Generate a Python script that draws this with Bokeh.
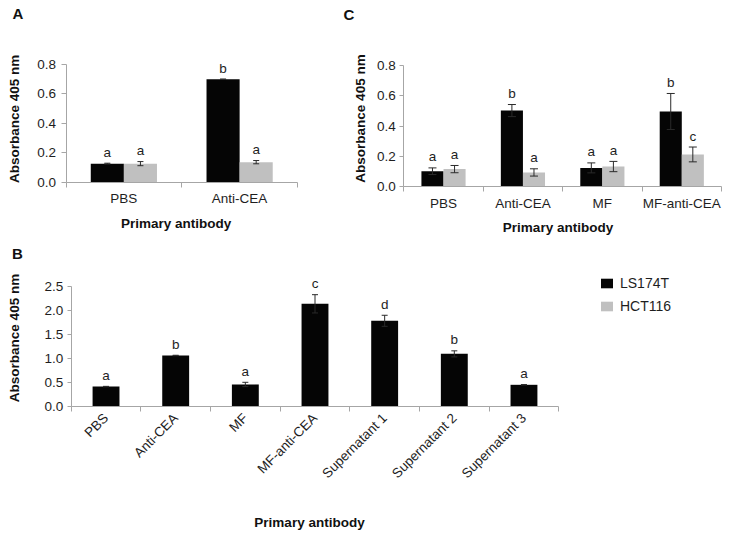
import math
import numpy as np
from bokeh.plotting import figure
from bokeh.models import (Range1d, FixedTicker, ColumnDataSource, Whisker, TeeHead,
                          Label, Legend, LegendItem, PrintfTickFormatter)
from bokeh.layouts import column, row
from bokeh.core.properties import value
from bokeh.embed import file_html
from bokeh.resources import INLINE

FONT = "Liberation Sans"
BLACK = "#050505"
GRAY = "#c0c0c0"
AXIS = "#a6a6a6"
TXT = "#1e1e1e"
FS = "13.5px"

# ---------------- data ----------------
# Panel A
a_categories = ["PBS", "Anti-CEA"]
a_ls174t = [0.125, 0.700]
a_ls174t_err = [0.003, 0.0]
a_hct116 = [0.125, 0.135]
a_hct116_err = [0.014, 0.011]
a_ls174t_letters = ["a", "b"]
a_hct116_letters = ["a", "a"]
a_yticks = [0.0, 0.2, 0.4, 0.6, 0.8]

# Panel C
c_categories = ["PBS", "Anti-CEA", "MF", "MF-anti-CEA"]
c_ls174t = [0.101, 0.502, 0.123, 0.496]
c_ls174t_err = [0.022, 0.040, 0.033, 0.119]
c_hct116 = [0.115, 0.093, 0.132, 0.212]
c_hct116_err = [0.024, 0.024, 0.034, 0.049]
c_ls174t_letters = ["a", "b", "a", "b"]
c_hct116_letters = ["a", "a", "a", "c"]
c_yticks = [0.0, 0.2, 0.4, 0.6, 0.8]

# Panel B
b_categories = ["PBS", "Anti-CEA", "MF", "MF-anti-CEA",
                "Supernatant 1", "Supernatant 2", "Supernatant 3"]
b_ls174t = [0.420, 1.066, 0.464, 2.140, 1.787, 1.100, 0.457]
b_ls174t_err = [0.005, 0.005, 0.045, 0.190, 0.115, 0.063, 0.005]
b_letters = ["a", "b", "a", "c", "d", "b", "a"]
b_yticks = [0.0, 0.5, 1.0, 1.5, 2.0, 2.5]

series_names = ["LS174T", "HCT116"]
x_title = "Primary antibody"
y_title = "Absorbance 405 nm"


def panel_fig(width, height, ncat, ymax, box):
    """box = pixel edges of the axes area inside the canvas: left, right, top, bottom
    (measured from the canvas top-left). The frame fills the whole canvas and the
    axes are pinned at the category/zero origin."""
    left, right, top, bottom = box
    cat_px = (right - left) / ncat
    val_px = (bottom - top) / ymax
    xr = Range1d(-0.5 - left / cat_px, ncat - 0.5 + (width - right) / cat_px)
    yr = Range1d(-(height - bottom) / val_px, ymax + top / val_px)
    p = figure(width=width, height=height, output_backend="svg", toolbar_location=None,
               x_range=xr, y_range=yr,
               min_border_left=0, min_border_right=0, min_border_top=0, min_border_bottom=0)
    p.outline_line_color = None
    p.xgrid.visible = False
    p.ygrid.visible = False
    p.background_fill_color = "white"
    p.border_fill_color = "white"
    return p


def style_axes(p, categories, yticks, x_standoff, y_standoff, y_tick_out=4,
               orientation="horizontal"):
    n = len(categories)
    xa = p.xaxis[0]
    xa.fixed_location = 0
    xa.bounds = (-0.5, n - 0.5)
    xa.ticker = FixedTicker(ticks=list(range(n)),
                            minor_ticks=[i - 0.5 for i in range(n + 1)])
    xa.major_label_overrides = {i: c for i, c in enumerate(categories)}
    xa.major_tick_out = 0
    xa.major_tick_in = 0
    xa.minor_tick_out = 5
    xa.minor_tick_in = 0
    xa.minor_tick_line_color = AXIS
    xa.axis_line_color = AXIS
    xa.major_label_text_font = FONT
    xa.major_label_text_font_size = FS
    xa.major_label_text_color = TXT
    xa.major_label_standoff = x_standoff
    xa.major_label_orientation = orientation

    ya = p.yaxis[0]
    ya.fixed_location = -0.5
    ya.bounds = (yticks[0], yticks[-1])
    ya.ticker = FixedTicker(ticks=yticks)
    ya.formatter = PrintfTickFormatter(format="%.1f")
    ya.major_tick_out = y_tick_out
    ya.major_tick_in = 0
    ya.minor_tick_out = 0
    ya.minor_tick_in = 0
    ya.major_tick_line_color = AXIS
    ya.axis_line_color = AXIS
    ya.major_label_text_font = FONT
    ya.major_label_text_font_size = FS
    ya.major_label_text_color = TXT
    ya.major_label_standoff = y_standoff


def add_series(p, xs, vals, errs, letters, color, width, cap):
    vals = np.array(vals, dtype=float)
    errs = np.array(errs, dtype=float)
    src = ColumnDataSource(dict(x=xs, top=vals, upper=vals + errs, lower=vals - errs,
                                ytext=vals + errs, letter=letters))
    r = p.vbar(x="x", top="top", bottom=0, width=width, source=src,
               fill_color=color, line_color=None)
    w = Whisker(source=src, base="x", upper="upper", lower="lower", dimension="height",
                line_color="#2a2a2a", line_width=1, level="overlay",
                upper_head=TeeHead(size=cap, line_color="#2a2a2a", line_width=1),
                lower_head=TeeHead(size=cap, line_color="#2a2a2a", line_width=1))
    p.add_layout(w)
    p.text(x="x", y="ytext", text="letter", source=src, text_font=value(FONT),
           text_font_size=FS, text_align="center", text_baseline="alphabetic",
           y_offset=-11, text_color=TXT)
    return r, src


def screen_label(p, text, x, y, size=FS, bold=True, angle=0.0, align="left"):
    p.add_layout(Label(x=x, y=y, x_units="screen", y_units="screen", text=text,
                       text_font=FONT, text_font_size=size,
                       text_font_style="bold" if bold else "normal",
                       text_align=align, text_baseline="alphabetic", angle=angle,
                       text_color="#111111"))


# ---------------- Panel A ----------------
pA = panel_fig(330, 240, len(a_categories), 0.8, (65.5, 297, 64, 181.5))
bwA = 0.286
xA = np.arange(len(a_categories))
add_series(pA, xA - bwA / 2, a_ls174t, a_ls174t_err, a_ls174t_letters, BLACK, bwA, 6)
add_series(pA, xA + bwA / 2, a_hct116, a_hct116_err, a_hct116_letters, GRAY, bwA, 6)
style_axes(pA, a_categories, a_yticks, 4, 5, y_tick_out=5)
screen_label(pA, "A", 12, 227, size="15px")
screen_label(pA, y_title, 13.5, 121.7, angle=math.pi / 2, align="center")
screen_label(pA, x_title, 175.7, 17.5, align="center")

# ---------------- Panel C ----------------
pC = panel_fig(403, 240, len(c_categories), 0.8, (73.3, 391, 65, 186))
bwC = 0.278
xC = np.arange(len(c_categories))
add_series(pC, xC - bwC / 2, c_ls174t, c_ls174t_err, c_ls174t_letters, BLACK, bwC, 8)
add_series(pC, xC + bwC / 2, c_hct116, c_hct116_err, c_hct116_letters, GRAY, bwC, 8)
style_axes(pC, c_categories, c_yticks, 4, 4, y_tick_out=4)
screen_label(pC, "C", 13, 226, size="15px")
screen_label(pC, y_title, 30, 122, angle=math.pi / 2, align="center")
screen_label(pC, x_title, 227.5, 13, align="center")

# ---------------- Panel B ----------------
pB = panel_fig(733, 298, len(b_categories), 2.5, (70.7, 558.3, 46, 166.3))
bwB = 0.386
xB = np.arange(len(b_categories))
rB, srcB = add_series(pB, xB, b_ls174t, b_ls174t_err, b_letters, BLACK, bwB, 6)
# legend-only renderer for the HCT116 swatch (hidden in the plot)
rGray = pB.vbar(x="x", top="top", width=bwB, source=srcB, fill_color=GRAY,
                line_color=None, visible=False)
style_axes(pB, b_categories, b_yticks, 4, 4, y_tick_out=4, orientation=math.pi / 4)
screen_label(pB, "B", 11.5, 285, size="15px")
screen_label(pB, y_title, 13.5, 200.5, angle=math.pi / 2, align="center")
screen_label(pB, x_title, 309, 16, align="center")

legend = Legend(items=[LegendItem(label=series_names[0], renderers=[rB]),
                       LegendItem(label=series_names[1], renderers=[rGray])],
                location=(599, 224), padding=0, margin=0, border_line_color=None,
                background_fill_alpha=0, glyph_width=15, glyph_height=12,
                label_standoff=6, spacing=7, label_height=12,
                label_text_font=FONT, label_text_font_size="14px",
                label_text_color=TXT)
pB.add_layout(legend)

layout = column(row(pA, pC), pB)
open("out.html", "w").write(file_html(layout, INLINE))
